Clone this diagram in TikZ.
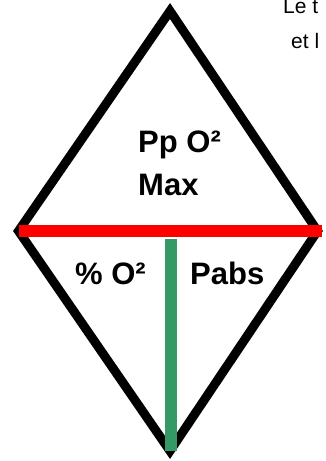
\documentclass[tikz,border=0pt]{standalone}
\usepackage{fontspec}
\setmainfont{Liberation Sans}
\definecolor{barred}{RGB}{255,0,0}
\definecolor{bargreen}{RGB}{51,153,102}
\tikzset{
  outline/.style={line width=9pt, line join=miter, draw=black},
  redbar/.style={line width=12pt, draw=barred, line cap=butt},
  greenbar/.style={line width=12pt, draw=bargreen, line cap=butt},
  bigtext/.style={inner sep=0pt, font=\fontsize{31}{37}\selectfont\bfseries, anchor=base west},
  smalltext/.style={inner sep=0pt, font=\fontsize{21}{25}\selectfont, anchor=base west},
}
\begin{document}
\begin{tikzpicture}[x=1pt,y=-1pt]
\useasboundingbox (0,0) rectangle (326,461);
\clip (0,0) rectangle (326,461);
\coordinate (top) at (170,11);
\coordinate (right) at (317.5,231);
\coordinate (bottom) at (170,451);
\coordinate (left) at (18.5,231);
\coordinate (redL) at (19,231);
\coordinate (redR) at (322,231);
\coordinate (grT) at (170.5,239);
\coordinate (grB) at (170.5,451);
\draw[outline] (top) -- (right) -- (bottom) -- (left) -- cycle;
\draw[redbar] (redL) -- (redR);
\draw[greenbar] (grT) -- (grB);
\node[bigtext] (pp) at (138,152) {Pp O²};
\node[bigtext] (max) at (138,195) {Max};
\node[bigtext] (pct) at (75,284) {\% O²};
\node[bigtext] (pabs) at (190,284) {Pabs};
\node[smalltext] (le) at (283,13) {Le t};
\node[smalltext] (et) at (291,48) {et l};
\end{tikzpicture}
\end{document}
